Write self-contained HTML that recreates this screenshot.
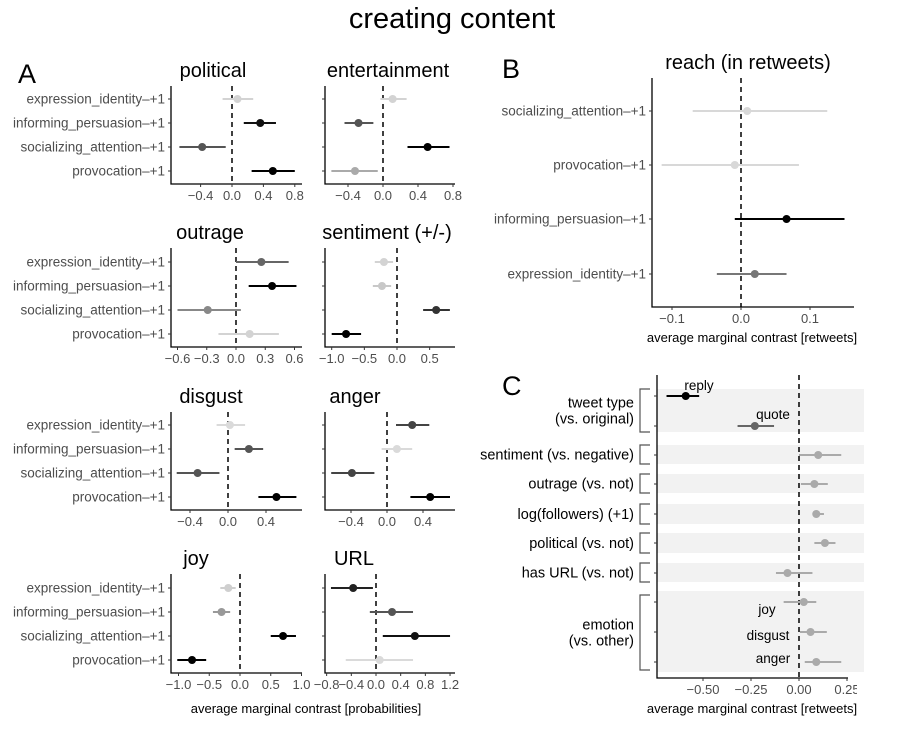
<!DOCTYPE html>
<html><head><meta charset="utf-8"><style>
html,body{margin:0;padding:0;background:#fff;}
svg{display:block;font-family:"Liberation Sans",sans-serif;}
</style></head><body>
<svg id="fig" width="904" height="740" viewBox="0 0 904 740">
<text x="452" y="28" font-size="29" text-anchor="middle" fill="#000">creating content</text>
<text x="18" y="83" font-size="27">A</text>
<text x="502" y="78" font-size="27">B</text>
<text x="502" y="395" font-size="27">C</text>
<g id="layer"></g>
</svg>
<script>
// ---------- DATA ----------
const categoriesA = ["expression_identity\u2013+1","informing_persuasion\u2013+1","socializing_attention\u2013+1","provocation\u2013+1"];
const politicalEst = [0.07, 0.36, -0.38, 0.52];
const politicalLo = [-0.12, 0.15, -0.67, 0.25];
const politicalHi = [0.27, 0.56, -0.08, 0.80];
const politicalShade = ["#d3d3d3","#111","#555","#000"];
const entertainmentEst = [0.11, -0.28, 0.51, -0.32];
const entertainmentLo = [-0.03, -0.44, 0.28, -0.59];
const entertainmentHi = [0.27, -0.11, 0.76, -0.06];
const entertainmentShade = ["#d3d3d3","#555","#000","#aaa"];
const outrageEst = [0.26, 0.37, -0.29, 0.14];
const outrageLo = [0.0, 0.13, -0.6, -0.18];
const outrageHi = [0.54, 0.62, 0.05, 0.44];
const outrageShade = ["#666","#000","#888","#d3d3d3"];
const sentimentEst = [-0.2, -0.23, 0.6, -0.78];
const sentimentLo = [-0.34, -0.37, 0.4, -1.0];
const sentimentHi = [-0.06, -0.09, 0.81, -0.55];
const sentimentShade = ["#d3d3d3","#c8c8c8","#333","#000"];
const disgustEst = [0.02, 0.22, -0.32, 0.51];
const disgustLo = [-0.12, 0.07, -0.54, 0.32];
const disgustHi = [0.18, 0.37, -0.09, 0.72];
const disgustShade = ["#dadada","#555","#555","#000"];
const angerEst = [0.28, 0.11, -0.39, 0.48];
const angerLo = [0.1, -0.06, -0.62, 0.26];
const angerHi = [0.47, 0.28, -0.14, 0.7];
const angerShade = ["#444","#dadada","#444","#000"];
const joyEst = [-0.19, -0.3, 0.7, -0.78];
const joyLo = [-0.32, -0.44, 0.5, -1.02];
const joyHi = [-0.07, -0.16, 0.91, -0.55];
const joyShade = ["#cfcfcf","#999","#000","#000"];
const urlEst = [-0.37, 0.26, 0.63, 0.06];
const urlLo = [-0.73, -0.1, 0.11, -0.49];
const urlHi = [-0.05, 0.6, 1.2, 0.6];
const urlShade = ["#222","#555","#111","#dadada"];
const politicalTicks = [-0.4, 0.0, 0.4, 0.8];
const entertainmentTicks = [-0.4, 0.0, 0.4, 0.8];
const outrageTicks = [-0.6, -0.3, 0.0, 0.3, 0.6];
const sentimentTicks = [-1.0, -0.5, 0.0, 0.5];
const disgustTicks = [-0.4, 0.0, 0.4];
const angerTicks = [-0.4, 0.0, 0.4];
const joyTicks = [-1.0, -0.5, 0.0, 0.5, 1.0];
const urlTicks = [-0.8, -0.4, 0.0, 0.4, 0.8, 1.2];

const categoriesB = ["socializing_attention\u2013+1","provocation\u2013+1","informing_persuasion\u2013+1","expression_identity\u2013+1"];
const reachEst = [0.009, -0.009, 0.066, 0.02];
const reachLo = [-0.07, -0.115, -0.009, -0.035];
const reachHi = [0.125, 0.084, 0.15, 0.066];
const reachShade = ["#d8d8d8","#d8d8d8","#000","#777"];
const reachTicks = [-0.1, 0.0, 0.1];

const termsC = ["reply","quote","sentiment","outrage","log_followers","political","has_url","joy","disgust","anger"];
const cEst = [-0.59, -0.23, 0.10, 0.08, 0.09, 0.135, -0.06, 0.025, 0.06, 0.09];
const cLo = [-0.69, -0.32, 0.0, 0.01, 0.07, 0.08, -0.12, -0.08, 0.005, 0.03];
const cHi = [-0.52, -0.13, 0.22, 0.15, 0.13, 0.19, 0.07, 0.09, 0.145, 0.22];
const cShade = ["#000","#666","#aaa","#aaa","#aaa","#aaa","#aaa","#aaa","#aaa","#aaa"];
const cTicks = [-0.50, -0.25, 0.00, 0.25];

// ---------- DRAWING ----------
const NS = "http://www.w3.org/2000/svg";
const layer = document.getElementById("layer");
function mk(tag, attrs, parent) {
  const e = document.createElementNS(NS, tag);
  for (const k in attrs) e.setAttribute(k, attrs[k]);
  (parent || layer).appendChild(e);
  return e;
}
function fmt(v, d) { const s = v.toFixed(d); return v < 0 ? "\u2212" + s.slice(1) : s; }

function panel(p) {
  const g = mk("g", {});
  
  
  const xs = v => p.zero + v * p.ppu;
  const ys = i => p.rows[i];
  const t = mk("text", {x: p.titleX, y: p.top - 9, "font-size": 20, "text-anchor": "middle", fill: "#000"}, g);
  t.textContent = p.title;
  
  
  const ax = mk("path", {d: `M${p.left} ${p.top}V${p.bottom}H${p.right}`, stroke: "#000", "stroke-width": 1.3, fill: "none"}, g);
  
  
  p.rows.forEach((y, i) => {
    mk("line", {x1: p.left - 3, x2: p.left, y1: y, y2: y, stroke: "#333", "stroke-width": 1}, g);
    if (p.cats) {
      const l = mk("text", {x: p.left - 6, y: y + 4.5, "font-size": 13.5, "text-anchor": "end", fill: "#4d4d4d"}, g);
      l.textContent = p.cats[i];
      
      
    }
  });
  p.ticks.forEach(v => {
    const x = xs(v);
    mk("line", {x1: x, x2: x, y1: p.bottom, y2: p.bottom + 3, stroke: "#333", "stroke-width": 1}, g);
    const l = mk("text", {x: x, y: p.bottom + 16, "font-size": 13, "text-anchor": "middle", fill: "#4d4d4d"}, g);
    l.textContent = fmt(v, p.dec);
    
    
  });
  const z = mk("line", {x1: xs(0), x2: xs(0), y1: p.top, y2: p.bottom, stroke: "#000", "stroke-width": 1.5, "stroke-dasharray": "5,4"}, g);
  
  
  p.est.forEach((v, i) => {
    const ln = mk("line", {x1: xs(p.lo[i]), x2: xs(p.hi[i]), y1: ys(i), y2: ys(i), stroke: p.shade[i], "stroke-width": 2}, g);
    
    
    const c = mk("circle", {cx: xs(v), cy: ys(i), r: 4, fill: p.shade[i]}, g);
    
    
  });
}

const colL = {left: 171, right: 302, cats: categoriesA, titleX: 213};
const colR = {left: 325, right: 455, cats: null, titleX: 388};
const row1 = {top: 86, bottom: 184, rows: [99, 123, 147, 171]};
const row2 = {top: 248, bottom: 347, rows: [262, 286, 310, 334]};
const row3 = {top: 412, bottom: 510, rows: [425, 449, 473, 497]};
const row4 = {top: 574, bottom: 673, rows: [588, 612, 636, 660]};

panel(Object.assign({}, colL, row1, {name: "political", title: "political", zero: 232, ppu: 78.5, ticks: politicalTicks, dec: 1, est: politicalEst, lo: politicalLo, hi: politicalHi, shade: politicalShade}));
panel(Object.assign({}, colR, row1, {name: "entertainment", title: "entertainment", zero: 383, ppu: 87.5, ticks: entertainmentTicks, dec: 1, est: entertainmentEst, lo: entertainmentLo, hi: entertainmentHi, shade: entertainmentShade}));
panel(Object.assign({}, colL, row2, {name: "outrage", title: "outrage", zero: 236, ppu: 97.5, ticks: outrageTicks, dec: 1, est: outrageEst, lo: outrageLo, hi: outrageHi, shade: outrageShade, titleX: 210}));
panel(Object.assign({}, colR, row2, {name: "sentiment", title: "sentiment (+/-)", zero: 397, ppu: 65.3, ticks: sentimentTicks, dec: 1, est: sentimentEst, lo: sentimentLo, hi: sentimentHi, shade: sentimentShade, titleX: 387}));
panel(Object.assign({}, colL, row3, {name: "disgust", title: "disgust", zero: 228, ppu: 95, ticks: disgustTicks, dec: 1, est: disgustEst, lo: disgustLo, hi: disgustHi, shade: disgustShade, titleX: 211}));
panel(Object.assign({}, colR, row3, {name: "anger", title: "anger", zero: 387, ppu: 90, ticks: angerTicks, dec: 1, est: angerEst, lo: angerLo, hi: angerHi, shade: angerShade, titleX: 355}));
panel(Object.assign({}, colL, row4, {name: "joy", title: "joy", zero: 240, ppu: 61.5, ticks: joyTicks, dec: 1, est: joyEst, lo: joyLo, hi: joyHi, shade: joyShade, titleX: 196}));
panel(Object.assign({}, colR, row4, {name: "url", title: "URL", zero: 376, ppu: 61.7, ticks: urlTicks, dec: 1, est: urlEst, lo: urlLo, hi: urlHi, shade: urlShade, titleX: 354}));

panel({name: "reach", title: "reach (in retweets)", left: 652, right: 854, top: 78, bottom: 307, rows: [111, 165, 219, 274], cats: categoriesB, titleX: 748, zero: 741, ppu: 690, ticks: reachTicks, dec: 1, est: reachEst, lo: reachLo, hi: reachHi, shade: reachShade});

const bands = [[389, 432], [445, 464], [474, 493], [504, 524], [533, 553], [563, 582], [591, 672]];
bands.forEach(b => {
  const r = mk("rect", {x: 657, y: b[0], width: 207, height: b[1] - b[0], fill: "#f2f2f2"});
  
  
});
panel({name: "panel-c", title: "", left: 657, right: 848, top: 375, bottom: 678, rows: [396, 426, 455, 484, 514, 543, 573, 602, 632, 662], cats: null, titleX: 750, zero: 799, ppu: 192, ticks: cTicks, dec: 2, est: cEst, lo: cLo, hi: cHi, shade: cShade});
mk("rect", {x: 857, y: 682, width: 47, height: 20, fill: "#fff"});

const groupLabels = [
  {lines: ["tweet type", "(vs. original)"], y0: 389, y1: 432},
  {lines: ["sentiment (vs. negative)"], y0: 445, y1: 464},
  {lines: ["outrage (vs. not)"], y0: 474, y1: 493},
  {lines: ["log(followers) (+1)"], y0: 504, y1: 524},
  {lines: ["political (vs. not)"], y0: 533, y1: 553},
  {lines: ["has URL (vs. not)"], y0: 563, y1: 582},
  {lines: ["emotion", "(vs. other)"], y0: 595, y1: 670}
];
groupLabels.forEach(gl => {
  const br = mk("path", {d: `M650 ${gl.y0}H640V${gl.y1}H650`, stroke: "#555", "stroke-width": 1.2, fill: "none"});
  
  
  const mid = (gl.y0 + gl.y1) / 2;
  gl.lines.forEach((s, k) => {
    const t = mk("text", {x: 634, y: mid + 5 + (k - (gl.lines.length - 1) / 2) * 16, "font-size": 14.5, "text-anchor": "end", fill: "#000"});
    t.textContent = s;
    
    
  });
});
const inl = [["reply", 699, 390], ["quote", 773, 419], ["joy", 767, 614], ["disgust", 768, 640], ["anger", 773, 663]];
inl.forEach(a => {
  const t = mk("text", {x: a[1], y: a[2], "font-size": 13.5, "text-anchor": "middle", fill: "#000"});
  t.textContent = a[0];
  
  
});

const xt1 = mk("text", {x: 306, y: 713, "font-size": 13, "text-anchor": "middle", fill: "#000"});
xt1.textContent = "average marginal contrast [probabilities]";


const xt2 = mk("text", {x: 752, y: 342, "font-size": 13, "text-anchor": "middle", fill: "#000"});
xt2.textContent = "average marginal contrast [retweets]";


const xt3 = mk("text", {x: 752, y: 713, "font-size": 13, "text-anchor": "middle", fill: "#000"});
xt3.textContent = "average marginal contrast [retweets]";


</script>
</body></html>
